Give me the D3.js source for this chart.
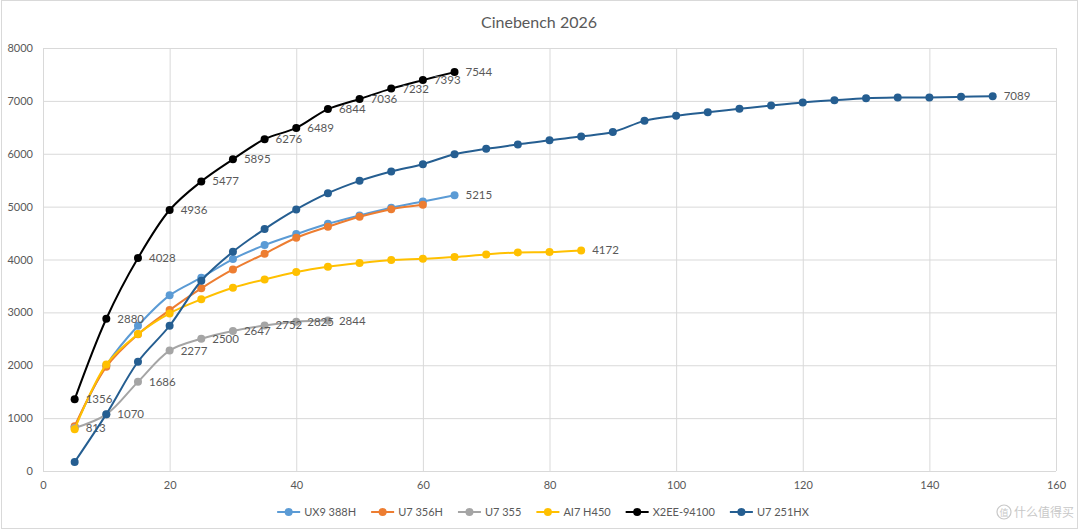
<!DOCTYPE html>
<html>
<head>
<meta charset="utf-8">
<script src="https://cdn.jsdelivr.net/npm/d3@7"></script>
<style>
  body { margin: 0; background: #fff; }
  text { font-family: Lato, "Noto Sans", sans-serif; }
</style>
</head>
<body>
<div id="chart"></div>
<script>
var xTicks = [0, 20, 40, 60, 80, 100, 120, 140, 160];
var yTicks = [0, 1000, 2000, 3000, 4000, 5000, 6000, 7000, 8000];

var seriesNames = ["UX9 388H", "U7 356H", "U7 355", "AI7 H450", "X2EE-94100", "U7 251HX"];
var seriesColors = ["#5b9bd5", "#ed7d31", "#a5a5a5", "#ffc000", "#000000", "#255e91"];

// x positions are 5, 10, 15 ... for every series
var ux9_388h = [830, 2000, 2747, 3322, 3655, 4008, 4272, 4480, 4675, 4833, 4977, 5098, 5215];
var u7_356h = [846, 1970, 2585, 3043, 3454, 3812, 4108, 4411, 4619, 4808, 4952, 5034];
var u7_355 = [813, 1070, 1686, 2277, 2500, 2647, 2752, 2825, 2844];
var ai7_h450 = [790, 2015, 2589, 2981, 3246, 3466, 3623, 3762, 3862, 3932, 3989, 4013, 4045, 4096, 4133, 4140, 4172];
var x2ee_94100 = [1356, 2880, 4028, 4936, 5477, 5895, 6276, 6489, 6844, 7036, 7232, 7393, 7544];
var u7_251hx = [170, 1075, 2066, 2747, 3598, 4146, 4575, 4947, 5255, 5488, 5665, 5803, 5992, 6093, 6175,
                6257, 6326, 6410, 6622, 6717, 6786, 6849, 6912, 6970, 7013, 7051, 7064, 7066, 7076, 7089];

var seriesValues = [ux9_388h, u7_356h, u7_355, ai7_h450, x2ee_94100, u7_251hx];
// which series show every value label, or only the last one
var labelMode = ["last", "none", "all", "last", "all", "last"];

var W = 1080, H = 531;
var margin = { top: 48, right: 24, bottom: 60, left: 43 };
var width = W - margin.left - margin.right,
    height = H - margin.top - margin.bottom;

var svg = d3.select("#chart").append("svg")
    .attr("width", W)
    .attr("height", H);

// chart border
svg.append("rect")
    .attr("x", 1.5).attr("y", 0.5)
    .attr("width", W - 4).attr("height", H - 3)
    .attr("fill", "#fff")
    .attr("stroke", "#d9d9d9");

svg.append("text")
    .attr("x", 539)
    .attr("y", 28)
    .attr("text-anchor", "middle")
    .attr("fill", "#595959")
    .style("font-size", "16px")
    .text("Cinebench 2026");

var g = svg.append("g")
    .attr("transform", "translate(" + margin.left + "," + margin.top + ")");

var x = d3.scaleLinear().domain([0, 160]).range([0, width]);
var y = d3.scaleLinear().domain([0, 8000]).range([height, 0]);

// grid
g.append("g")
    .attr("transform", "translate(0," + height + ")")
    .call(d3.axisBottom(x).tickValues(xTicks).tickSize(-height).tickPadding(10))
    .call(function (a) {
        a.select(".domain").remove();
        a.selectAll("line").attr("stroke", "#d9d9d9");
        a.selectAll("text").attr("fill", "#595959").style("font-size", "11px");
    });

g.append("g")
    .call(d3.axisLeft(y).tickValues(yTicks).tickFormat(d3.format("d")).tickSize(-width).tickPadding(10))
    .call(function (a) {
        a.select(".domain").remove();
        a.selectAll("line").attr("stroke", "#d9d9d9");
        a.selectAll("text").attr("fill", "#595959").style("font-size", "11px");
    });

var line = d3.line()
    .x(function (d) { return x(d.x); })
    .y(function (d) { return y(d.v); })
    .curve(d3.curveCatmullRom.alpha(0.5));

var data = seriesValues.map(function (vals, i) {
    return {
        name: seriesNames[i],
        color: seriesColors[i],
        mode: labelMode[i],
        points: vals.map(function (v, j) { return { x: (j + 1) * 5, v: v }; })
    };
});

var series = g.selectAll(".series")
    .data(data)
    .enter().append("g")
    .attr("class", "series");

series.append("path")
    .attr("fill", "none")
    .attr("stroke", function (d) { return d.color; })
    .attr("stroke-width", 2)
    .attr("d", function (d) { return line(d.points); });

series.selectAll("circle")
    .data(function (d) { return d.points.map(function (p) { return { p: p, c: d.color }; }); })
    .enter().append("circle")
    .attr("cx", function (d) { return x(d.p.x); })
    .attr("cy", function (d) { return y(d.p.v); })
    .attr("r", 4)
    .attr("fill", function (d) { return d.c; });

// data labels
series.each(function (d) {
    var pts = d.mode == "all" ? d.points : d.mode == "last" ? d.points.slice(-1) : [];
    d3.select(this).selectAll(".lbl")
        .data(pts)
        .enter().append("text")
        .attr("class", "lbl")
        .attr("x", function (p) { return x(p.x) + 11; })
        .attr("y", function (p) { return y(p.v) + 4; })
        .attr("fill", "#595959")
        .style("font-size", "11.5px")
        .text(function (p) { return p.v; });
});

// legend
var legend = svg.append("g").attr("transform", "translate(0,512)");
var items = legend.selectAll(".item")
    .data(data)
    .enter().append("g")
    .attr("class", "item");

items.append("line")
    .attr("x1", 0).attr("x2", 23)
    .attr("stroke", function (d) { return d.color; })
    .attr("stroke-width", 2);
items.append("circle")
    .attr("cx", 11.5).attr("r", 4)
    .attr("fill", function (d) { return d.color; });
items.append("text")
    .attr("x", 27).attr("y", 4)
    .attr("fill", "#595959")
    .style("font-size", "11px")
    .text(function (d) { return d.name; });

var offs = [], pos = 0;
items.each(function () {
    offs.push(pos);
    pos += 27 + d3.select(this).select("text").node().getComputedTextLength() + 15;
});
var total = pos - 15, start = 543 - total / 2;
items.attr("transform", function (d, i) { return "translate(" + (start + offs[i]) + ",0)"; });

// watermark
var wm = svg.append("g").attr("transform", "translate(996,512)");
wm.append("circle").attr("cx", 8).attr("cy", 0).attr("r", 7)
    .attr("fill", "none").attr("stroke", "#c8c8c8").attr("stroke-width", 1.2);
wm.append("text").attr("x", 8).attr("y", 3.5).attr("text-anchor", "middle")
    .attr("fill", "#c8c8c8").style("font-size", "9px")
    .style("font-family", "'Noto Sans CJK SC'").text("值");
wm.append("text").attr("x", 18).attr("y", 5)
    .attr("fill", "#c8c8c8").style("font-size", "12px")
    .style("font-family", "'Noto Sans CJK SC'").text("什么值得买");
</script>
</body>
</html>
